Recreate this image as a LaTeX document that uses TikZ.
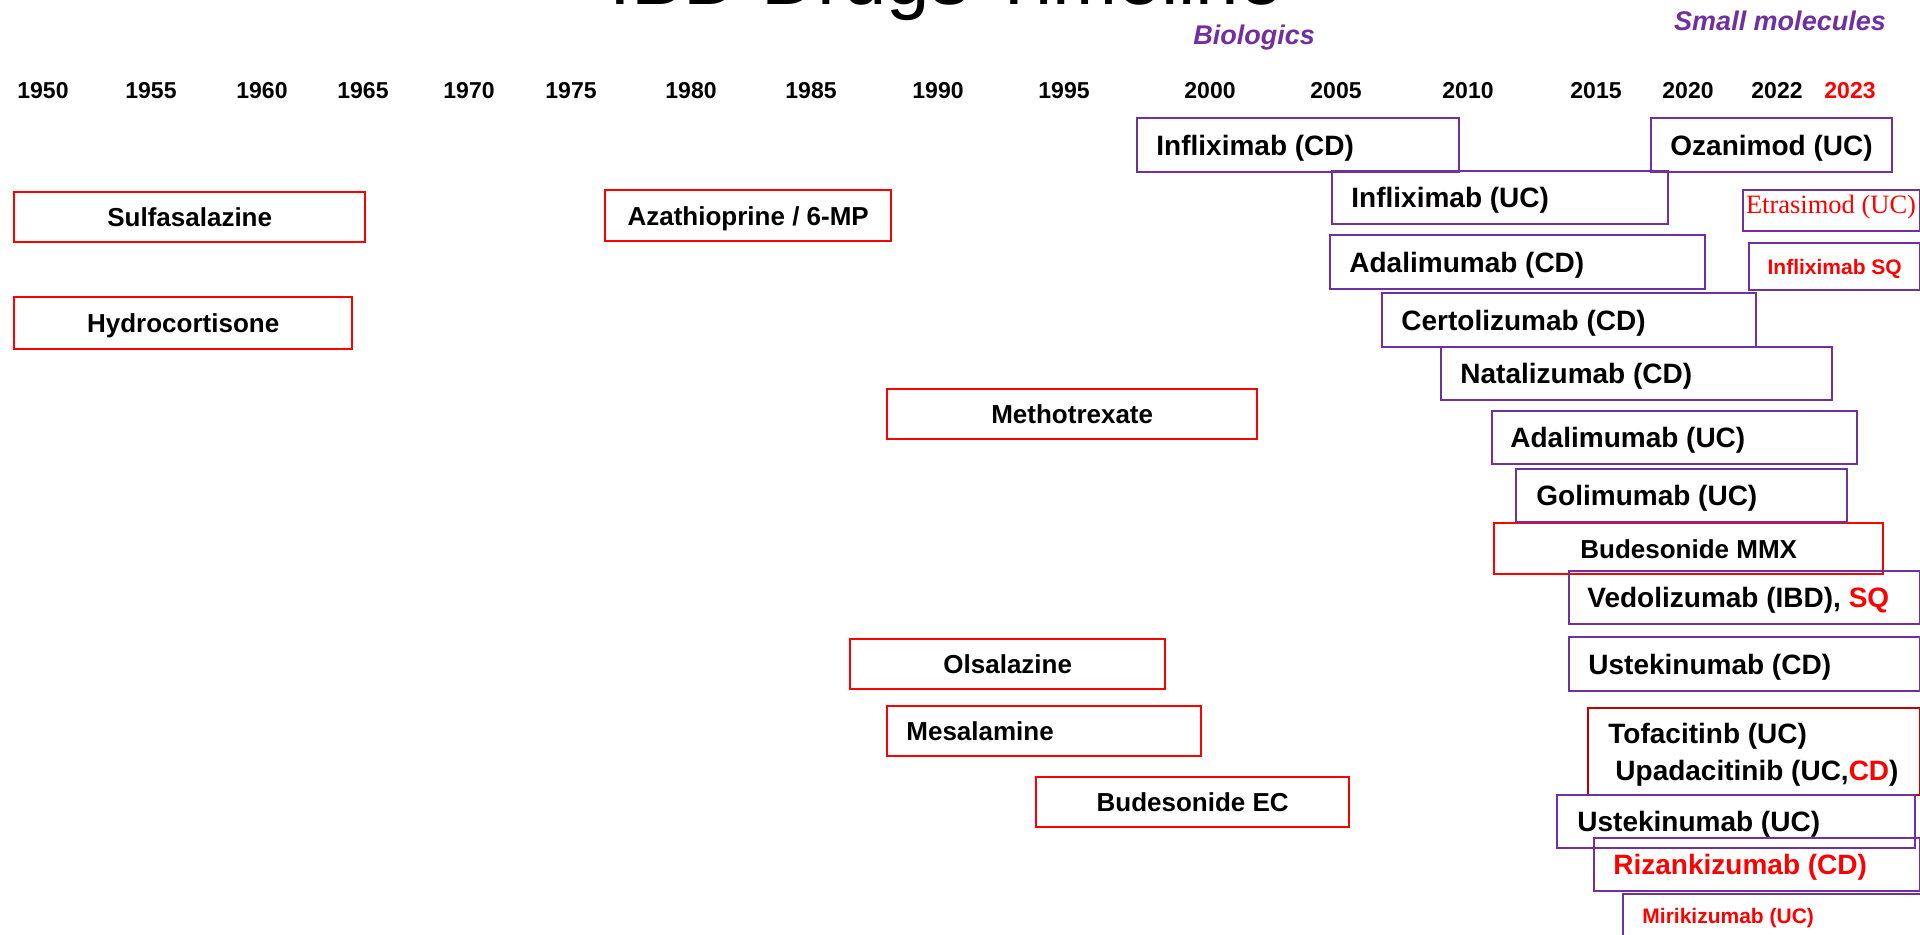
\documentclass[tikz,border=0pt]{standalone}
\usepackage{fontspec}
\setmainfont{Liberation Sans}
\newfontfamily\serifTNR{Liberation Serif}
\definecolor{ppl}{HTML}{7030A0}
\definecolor{rd}{HTML}{FF0000}
\definecolor{drd}{HTML}{C00000}
\begin{document}
\begin{tikzpicture}[x=0.5pt,y=-0.5pt,
  rframe/.style={draw=rd, line width=1.2pt, inner sep=0pt, anchor=north west,
     font=\fontsize{13}{15}\selectfont\bfseries, text height=9.3pt, text depth=0pt},
  pframe/.style={draw=ppl, line width=1.2pt, inner sep=0pt, anchor=north west},
  ptxt/.style={inner sep=0pt, anchor=west, font=\fontsize{14}{16}\selectfont\bfseries,
     text height=10pt, text depth=0pt},
  rtxt/.style={inner sep=0pt, anchor=west, font=\fontsize{13}{15}\selectfont\bfseries,
     text height=9.3pt, text depth=0pt},
  smalltxt/.style={inner sep=0pt, font=\fontsize{10.5}{12}\selectfont\bfseries, text=rd,
     text height=7.5pt, text depth=0pt},
  yr/.style={inner sep=0pt, anchor=base, font=\fontsize{11.5}{13}\selectfont\bfseries},
  cat/.style={inner sep=0pt, anchor=base, text=ppl, font=\fontsize{13.5}{15}\selectfont\bfseries\itshape},
]
\useasboundingbox (0,0) rectangle (1920,934);
\clip (0,0) rectangle (1920,934);

% title
\node[inner sep=0pt, anchor=base, font=\fontsize{39}{44}\selectfont] (title) at (946,4) {IBD Drugs Timeline};
\node[cat] (bio) at (1254,44) {Biologics};
\node[cat] (sm) at (1780,30) {Small molecules};

% years
\node[yr] (y1950) at (43,98) {1950};
\node[yr] (y1955) at (151,98) {1955};
\node[yr] (y1960) at (262,98) {1960};
\node[yr] (y1965) at (363,98) {1965};
\node[yr] (y1970) at (469,98) {1970};
\node[yr] (y1975) at (571,98) {1975};
\node[yr] (y1980) at (691,98) {1980};
\node[yr] (y1985) at (811,98) {1985};
\node[yr] (y1990) at (938,98) {1990};
\node[yr] (y1995) at (1064,98) {1995};
\node[yr] (y2000) at (1210,98) {2000};
\node[yr] (y2005) at (1336,98) {2005};
\node[yr] (y2010) at (1468,98) {2010};
\node[yr] (y2015) at (1596,98) {2015};
\node[yr] (y2020) at (1688,98) {2020};
\node[yr] (y2022) at (1777,98) {2022};
\node[yr, text=rd] (y2023) at (1850,98) {2023};

% conventional drugs (red)
\node[rframe, minimum width=175.5pt, minimum height=25pt] (sulfa) at (13,191) {Sulfasalazine};
\node[rframe, minimum width=169pt, minimum height=26pt] (hydro) at (13,296) {Hydrocortisone};
\node[rframe, minimum width=143pt, minimum height=25.5pt] (aza) at (604,189) {Azathioprine / 6-MP};
\node[rframe, minimum width=185pt, minimum height=25pt] (mtx) at (886,388) {Methotrexate};
\node[rframe, minimum width=157.5pt, minimum height=25pt] (olsa) at (849,638) {Olsalazine};
\node[rframe, minimum width=157pt, minimum height=25pt] (mesa) at (886,705) {};
\node[rtxt] (mesaT) at ([xshift=10pt]mesa.west) {Mesalamine};
\node[rframe, minimum width=156.5pt, minimum height=25pt] (budEC) at (1035,776) {Budesonide EC};
\node[rframe, minimum width=194.5pt, minimum height=25.5pt] (budMMX) at (1493,522) {Budesonide MMX};

% biologics (purple)
\node[pframe, minimum width=161pt, minimum height=27pt] (ifxCD) at (1136,117) {};
\node[ptxt] (ifxCDT) at ([xshift=10pt]ifxCD.west) {Infliximab (CD)};
\node[pframe, minimum width=168pt, minimum height=26.5pt] (ifxUC) at (1331,170) {};
\node[ptxt] (ifxUCT) at ([xshift=10pt]ifxUC.west) {Infliximab (UC)};
\node[pframe, minimum width=187.5pt, minimum height=27pt] (adaCD) at (1329,234) {};
\node[ptxt] (adaCDT) at ([xshift=10pt]adaCD.west) {Adalimumab (CD)};
\node[pframe, minimum width=187pt, minimum height=27pt] (certo) at (1381,292) {};
\node[ptxt] (certoT) at ([xshift=10pt]certo.west) {Certolizumab (CD)};
\node[pframe, minimum width=195.5pt, minimum height=26.5pt] (nata) at (1440,346) {};
\node[ptxt] (nataT) at ([xshift=10pt]nata.west) {Natalizumab (CD)};
\node[pframe, minimum width=120.5pt, minimum height=27pt] (ozan) at (1650,117) {};
\node[ptxt] (ozanT) at ([xshift=10pt]ozan.west) {Ozanimod (UC)};
\node[pframe, minimum width=182.5pt, minimum height=26.5pt] (adaUC) at (1491,410) {};
\node[ptxt] (adaUCT) at ([xshift=9.5pt]adaUC.west) {Adalimumab (UC)};
\node[pframe, minimum width=165.5pt, minimum height=26.5pt] (goli) at (1515,468) {};
\node[ptxt] (goliT) at ([xshift=10.5pt]goli.west) {Golimumab (UC)};
\node[pframe, minimum width=175.5pt, minimum height=26.5pt] (vedo) at (1568,570) {};
\node[ptxt] (vedoT) at ([xshift=9.5pt]vedo.west) {Vedolizumab (IBD), {\color{rd}SQ}};
\node[pframe, minimum width=175.5pt, minimum height=27pt] (usteCD) at (1568,636) {};
\node[ptxt] (usteCDT) at ([xshift=10pt]usteCD.west) {Ustekinumab (CD)};
\node[pframe, draw=drd, line width=1pt, minimum width=166pt, minimum height=43.5pt] (tofa) at (1587,707) {};
\node[ptxt] (tofaT1) at (1608,733) {Tofacitinb (UC)};
\node[ptxt] (tofaT2) at (1615,770) {Upadacitinib (UC,{\color{rd}CD})};
\node[pframe, minimum width=179pt, minimum height=26.5pt] (usteUC) at (1556,794) {};
\node[ptxt] (usteUCT) at ([xshift=10.5pt]usteUC.west) {Ustekinumab (UC)};
\node[pframe, minimum width=163pt, minimum height=26.5pt] (rizan) at (1593,837) {};
\node[ptxt, text=rd] (rizanT) at ([xshift=10pt]rizan.west) {Rizankizumab (CD)};
\node[pframe, minimum width=149pt, minimum height=26.5pt] (miri) at (1622,893) {};
\node[smalltxt, anchor=west] (miriT) at (1642,916) {Mirikizumab (UC)};
\node[pframe, line width=1pt, minimum width=88.5pt, minimum height=20.5pt] (etras) at (1742,189) {};
\node[inner sep=0pt, anchor=base, text=rd, font=\serifTNR\fontsize{13.25}{15}\selectfont] (etrasT) at (1831,213) {Etrasimod (UC)};
\node[pframe, minimum width=85.5pt, minimum height=23.5pt] (ifxSQ) at (1748,242) {};
\node[smalltxt] (ifxSQT) at (ifxSQ.center) {Infliximab SQ};
\end{tikzpicture}
\end{document}
